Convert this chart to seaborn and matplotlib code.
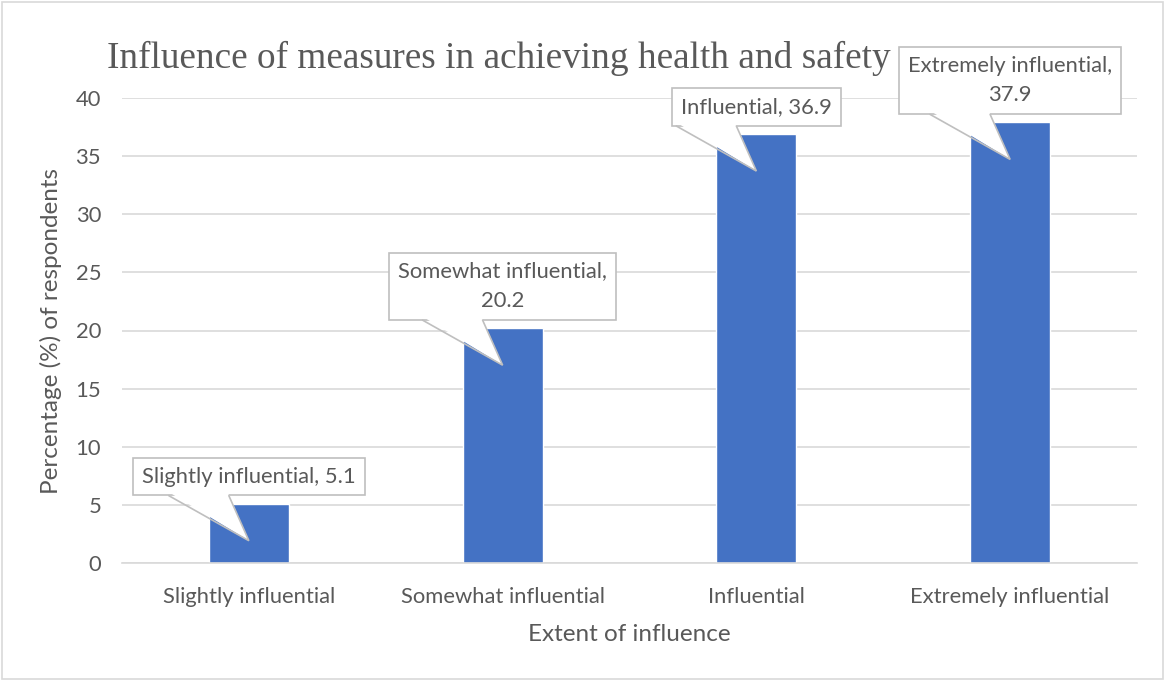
import matplotlib
matplotlib.use("Agg")
import matplotlib.pyplot as plt
import matplotlib.transforms as mtransforms
from matplotlib.patches import Polygon, Rectangle
import seaborn as sns

# ================= data =================
categories = ["Slightly influential", "Somewhat influential", "Influential", "Extremely influential"]
values = [5.1, 20.2, 36.9, 37.9]
callout_texts = ["Slightly influential, 5.1", "Somewhat influential,\n20.2",
                 "Influential, 36.9", "Extremely influential,\n37.9"]
yticks = [0, 5, 10, 15, 20, 25, 30, 35, 40]

BAR = "#4472C4"
TXT = "#595959"
GRID = "#d9d9d9"
EDGE = "#bfbfbf"

sns.set_style("white")
plt.rcParams['font.family'] = ['Lato', 'DejaVu Sans']

fig = plt.figure(figsize=(11.65, 6.81), dpi=100)
W, H = 1165, 681
ax = fig.add_axes([122 / W, 1 - 563 / H, (1137 - 122) / W, (563 - 98) / H])

sns.barplot(x=categories, y=values, color=BAR, width=0.315, saturation=1, ax=ax, zorder=2)

ax.set_ylim(0, 40)
ax.set_xlim(-0.5, 3.5)
ax.set_yticks(yticks)
ax.grid(axis='y', color=GRID, linewidth=1.2, zorder=0)
ax.set_axisbelow(True)
for s in ['top', 'right', 'left']:
    ax.spines[s].set_visible(False)
ax.spines['bottom'].set_color(GRID)
ax.spines['bottom'].set_linewidth(1.2)
ax.tick_params(axis='both', length=0, colors=TXT, labelsize=15.8)
ax.tick_params(axis='y', pad=15)
ax.tick_params(axis='x', pad=17)

ax.set_xlabel("Extent of influence", fontsize=17.5, color=TXT)
ax.set_ylabel("Percentage (%) of respondents", fontsize=17.5, color=TXT)
ax.xaxis.set_label_coords(0.5, -0.132)
ax.yaxis.set_label_coords(-0.059, 0.5)

fig.text(107 / W, 1 - 58 / H, "Influence of measures in achieving health and safety",
         family=['Liberation Serif'], fontsize=26.8, color=TXT, ha='left', va='center')

# ================= callouts =================
gap = 8      # px between bar top and box bottom
pad_px = 9
for i, (v, txt) in enumerate(zip(values, callout_texts)):
    ax.annotate(txt, xy=(i, v), xycoords='data', xytext=(0, gap + pad_px),
                textcoords='offset pixels', ha='center', va='bottom',
                fontsize=15.8, color=TXT, linespacing=1.6, zorder=4,
                bbox=dict(boxstyle='square,pad=0.4', fc='white', ec=EDGE, lw=1.2))
    tr = mtransforms.IdentityTransform() + mtransforms.ScaledTranslation(i, v, ax.transData)
    base_l, base_r, tip = (-80, gap), (-20, gap), (0, -37)
    fill = Polygon([(base_l[0] + 1, gap + 3), (base_r[0] - 1, gap + 3), tip], closed=True,
                   fc='white', ec='none', transform=tr, zorder=5)
    ax.add_patch(fill)
    ax.plot([base_l[0], tip[0], base_r[0]], [base_l[1], tip[1], base_r[1]],
            color=EDGE, lw=1.2, transform=tr, zorder=6, solid_joinstyle='miter')

# outer border
fig.patches.append(Rectangle((2 / W, 2 / H), 1 - 4 / W, 1 - 4 / H, transform=fig.transFigure,
                             fill=False, ec=GRID, lw=1.2))

plt.savefig("out.png", dpi=100)
